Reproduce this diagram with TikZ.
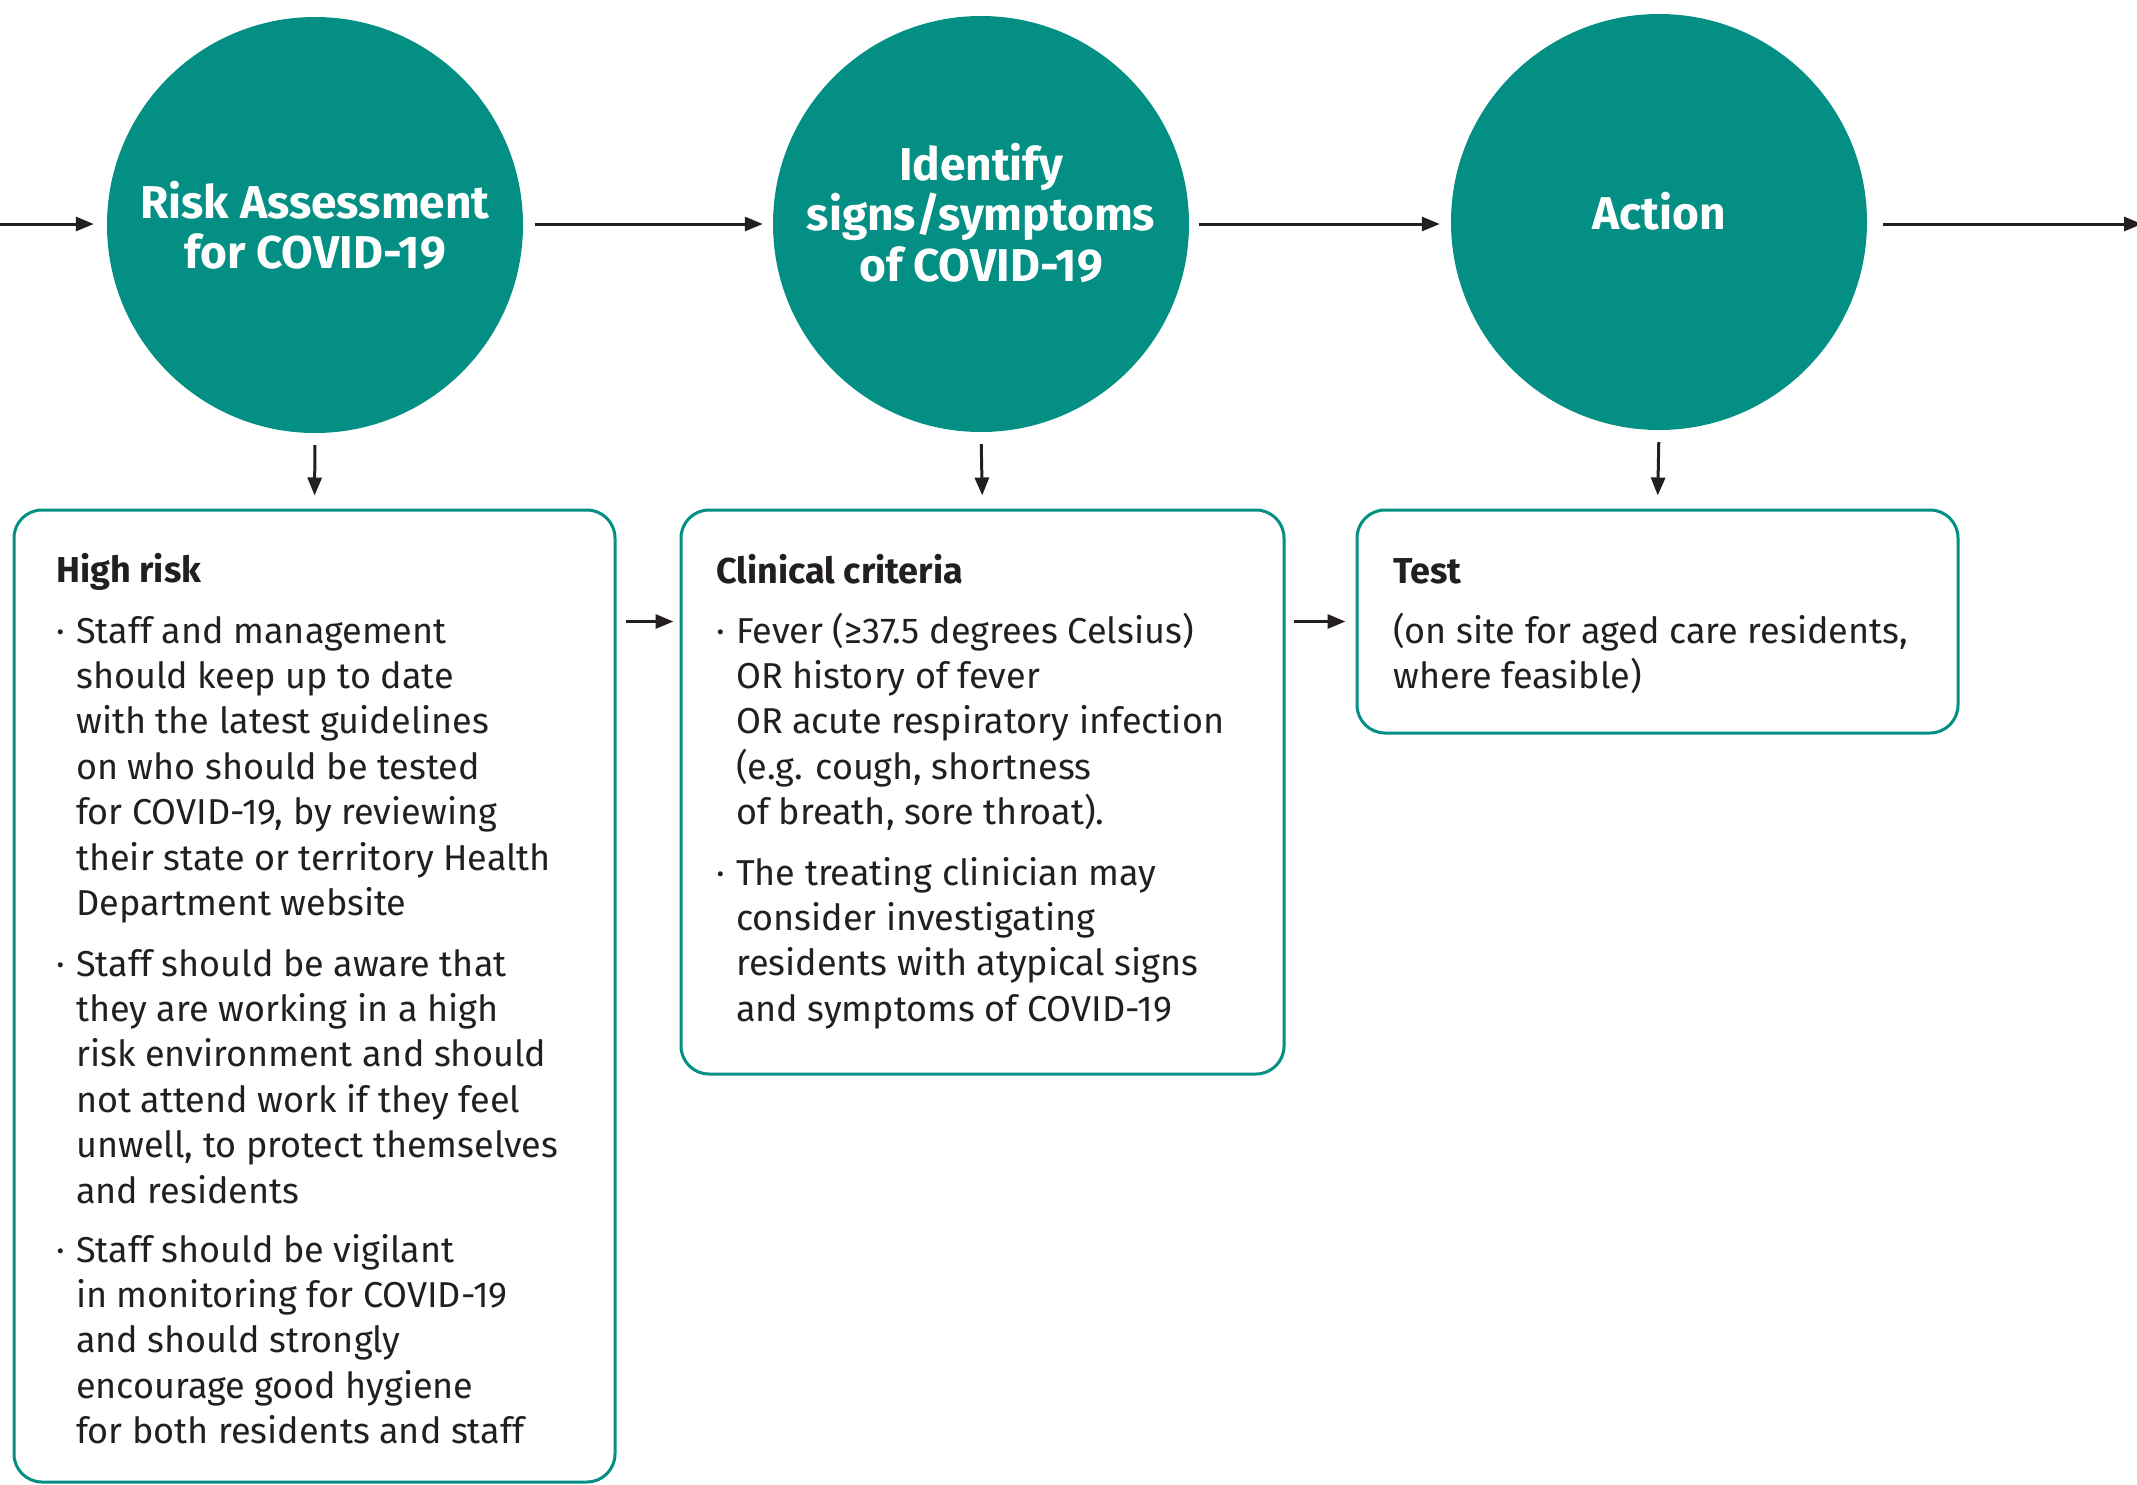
\documentclass[tikz,border=0pt]{standalone}
\usepackage{fontspec}
\setmainfont{Fira Sans}
\IfFontExistsTF{FiraSans-Light.otf}
  {\newfontfamily\bodyfont{FiraSans-Light.otf}}
  {\newfontfamily\bodyfont{Fira Sans}}
\newfontfamily\headfont{Fira Sans}
\usetikzlibrary{arrows.meta}
\definecolor{tealc}{HTML}{038F83}
\definecolor{darkc}{HTML}{231F20}
\newcommand{\bdot}{\llap{\makebox[20pt][l]{·}}}
\begin{document}
\begin{tikzpicture}[x=1pt,y=-1pt,
  circ/.style={circle, fill=tealc, minimum size=416pt, inner sep=0pt},
  ctext/.style={text=white, font=\headfont\bfseries\fontsize{46}{50.5}\selectfont, align=center, anchor=base, inner sep=0pt},
  boxc/.style={draw=tealc, line width=3pt, rounded corners=28pt, rectangle, inner sep=0pt},
  btitle/.style={anchor=base west, text=darkc, font=\headfont\bfseries\fontsize{36}{45.4}\selectfont, inner sep=0pt},
  btext/.style={anchor=base west, text=darkc, font=\bodyfont\fontsize{36}{45.4}\selectfont, align=left, inner sep=0pt},
  arr/.style={draw=darkc, line width=3pt, -{Triangle[length=18pt,width=14pt]}}]
\useasboundingbox (0,0) rectangle (2137,1484);
% circles
\node[circ] (c1) at (315,225) {};
\node[circ] (c2) at (981,224) {};
\node[circ] (c3) at (1659,222) {};
% (multi-line nodes are anchored at the baseline of their last line)
\node[ctext] (t1) at (315,268.5) {Risk Assessment\\for COVID-19};
\node[ctext] (t2) at (981,281) {Identify\\signs/symptoms\\of COVID-19};
\node[ctext] (t3) at (1659,229) {Action};
% boxes
\node[boxc, minimum width=601pt, minimum height=972pt] (b1) at (314.5,996) {};
\node[boxc, minimum width=603pt, minimum height=564pt] (b2) at (982.5,792) {};
\node[boxc, minimum width=601pt, minimum height=223pt] (b3) at (1657.5,621.5) {};
% box texts
\node[btitle] (h1) at (56,582) {High risk};
\node[btext] (p11) at (76,915.4) {\bdot Staff and management\\should keep up to date\\with the latest guidelines\\on who should be tested\\for COVID-19, by reviewing\\their state or territory Health\\Department website};
\node[btext] (p12) at (76,1203) {\bdot Staff should be aware that\\they are working in a high\\risk environment and should\\not attend work if they feel\\unwell, to protect themselves\\and residents};
\node[btext] (p13) at (76,1443.6) {\bdot Staff should be vigilant\\in monitoring for COVID-19\\and should strongly\\encourage good hygiene\\for both residents and staff};
\node[btitle] (h2) at (716,583) {Clinical criteria};
\node[btext] (p21) at (736,824.6) {\bdot Fever (≥37.5 degrees Celsius)\\OR history of fever\\OR acute respiratory infection\\(e.g. cough, shortness\\of breath, sore throat).};
\node[btext] (p22) at (736,1021.2) {\bdot The treating clinician may\\consider investigating\\residents with atypical signs\\and symptoms of COVID-19};
\node[btitle] (h3) at (1393,583) {Test};
\node[btext] (p31) at (1393,688.4) {(on site for aged care residents,\\where feasible)};
% connectors
\coordinate (inL) at (0,224);
\coordinate (outR) at (2142,224);
\draw[arr, shorten >=13pt] (inL) -- (c1.west |- inL);
\draw[arr, shorten <=12pt, shorten >=10pt] (c1.east |- inL) -- (c2.west |- inL);
\draw[arr, shorten <=10pt, shorten >=11pt] (c2.east |- inL) -- (c3.west |- inL);
\draw[arr, shorten <=16pt] (c3.east |- inL) -- (outR);
\draw[arr, shorten <=12pt, shorten >=13pt] (c1.south) -- (b1.north);
\draw[arr, shorten <=12pt, shorten >=13pt] (c2.south) -- (b2.north);
\draw[arr, shorten <=12pt, shorten >=13pt] (c3.south) -- (b3.north);
\draw[arr, shorten <=9pt, shorten >=6pt] (b1.east |- b3.west) -- (b2.west |- b3.west);
\draw[arr, shorten <=8pt, shorten >=10pt] (b2.east |- b3.west) -- (b3.west);
\end{tikzpicture}
\end{document}
